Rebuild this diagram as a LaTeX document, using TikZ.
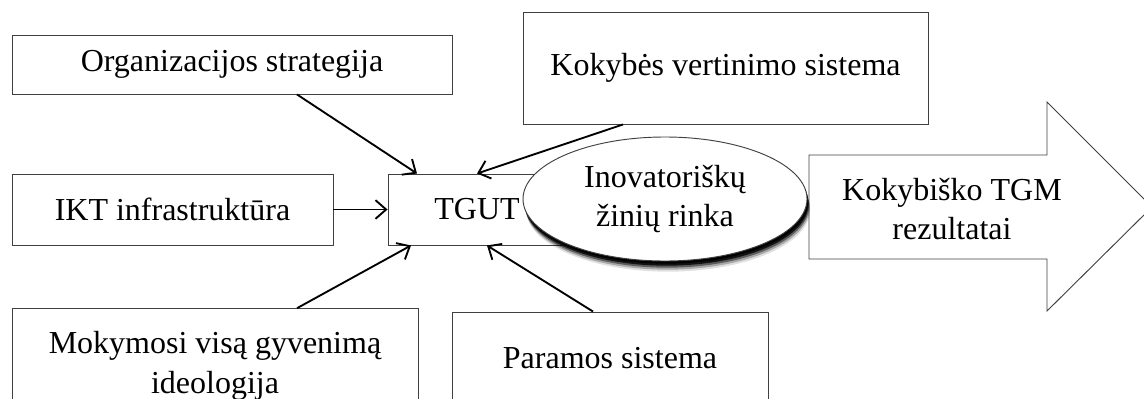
\documentclass[tikz,border=0pt]{standalone}
\usepackage{fontspec}
\setmainfont{Liberation Serif}
\usetikzlibrary{arrows.meta, calc, shapes.geometric, shadows}

\tikzset{
  box/.style={draw=black!75, line width=0.7pt, fill=white, inner sep=0pt,
    font=\fontsize{24}{29}\selectfont, align=center},
  conn/.style={line width=1.4pt,
    -{Straight Barb[length=8pt,width=14pt,line width=1.4pt]}},
  softshadow/.style={
    drop shadow={shadow xshift=2.4pt, shadow yshift=-8pt, opacity=0.12, fill=black},
    drop shadow={shadow xshift=2pt, shadow yshift=-6.5pt, opacity=0.25, fill=black},
    drop shadow={shadow xshift=1.6pt, shadow yshift=-5pt, opacity=0.45, fill=black},
    drop shadow={shadow xshift=1.2pt, shadow yshift=-3.5pt, opacity=0.8, fill=black},
    drop shadow={shadow xshift=0.8pt, shadow yshift=-2pt, opacity=1, fill=black}},
}

\begin{document}
\begin{tikzpicture}[x=0.75pt, y=-0.75pt]
    \useasboundingbox (0,0) rectangle (1144,399);

    % result arrow
    \draw[draw=black!75, line width=0.7pt, fill=white]
        (809,155) -- (1047,155) -- (1047,102) -- (1152,207)
        -- (1047,311) -- (1047,259) -- (809,259) -- cycle;
    \node[font=\fontsize{24}{29}\selectfont, align=center] (rez) at (952,209)
        {Kokybiško TGM\\rezultatai};

    % factor boxes
    \node[box, minimum width=330pt, minimum height=44.25pt] (org) at (232,64.5)
        {Organizacijos strategija};
    \node[box, minimum width=303.75pt, minimum height=84pt] (kok) at (725.5,68)
        {Kokybės vertinimo sistema};
    \node[box, minimum width=240.75pt, minimum height=53.25pt] (ikt) at (172.5,209.5)
        {IKT infrastruktūra};
    \node[box, minimum width=304.5pt, minimum height=86pt] (mok) at (215,366)
        {Mokymosi visą gyvenimą\\[1pt]ideologija};
    \node[box, minimum width=237pt, minimum height=69pt] (par) at (610,358)
        {Paramos sistema};

    \node[box, minimum width=133.5pt, minimum height=53.25pt] (tgut) at (477,209.5)
        {TGUT};

    % connectors
    \draw[conn] ($(org.south)+(65,0)$) -- ($(tgut.north)+(-60,0)$);
    \draw[conn] ($(kok.south)+(-102.5,0)$) -- (tgut.north);
    \draw[conn] (ikt.east) -- (tgut.west);
    \draw[conn] ($(mok.north)+(82,0)$) -- ($(tgut.south)+(-66,0)$);
    \draw[conn] ($(par.north)+(-17,0)$) -- ($(tgut.south)+(10,0)$);

    % market ellipse
    \node[ellipse, draw=black!75, line width=0.7pt, fill=white, inner sep=0pt,
        minimum width=213pt, minimum height=93pt, softshadow,
        font=\fontsize{24}{29}\selectfont, align=center] (rinka) at (665,199)
        {Inovatoriškų\\žinių rinka};
\end{tikzpicture}
\end{document}
